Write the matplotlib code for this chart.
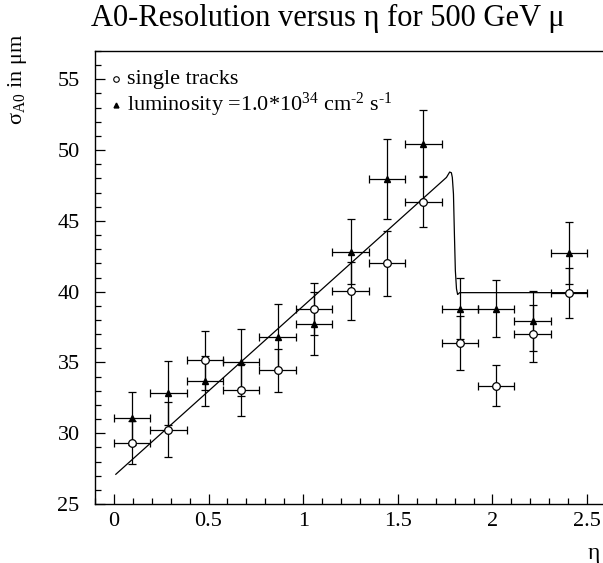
import matplotlib
matplotlib.use("Agg")
import matplotlib.pyplot as plt
from matplotlib.ticker import MultipleLocator

plt.rcParams['font.family'] = ['Liberation Serif', 'DejaVu Serif']
plt.rcParams['mathtext.fontset'] = 'custom'
plt.rcParams['mathtext.rm'] = 'Liberation Serif'
plt.rcParams['mathtext.it'] = 'Liberation Serif:italic'
plt.rcParams['mathtext.bf'] = 'Liberation Serif:bold'

# eta bin centres (13 bins over 0..2.5) and half widths
eta = [0.096, 0.288, 0.481, 0.673, 0.865, 1.058, 1.250, 1.442, 1.635, 1.827, 2.019, 2.212, 2.404]
eta_err = [0.096] * 13

# single tracks
single = [29.32, 30.26, 35.15, 33.03, 34.44, 38.79, 40.03, 42.00, 46.35, 36.37, 33.34, 37.03, 39.89]
single_err = [1.52, 1.94, 2.10, 1.83, 1.53, 1.85, 2.06, 2.30, 1.81, 1.88, 1.45, 2.00, 1.75]

# luminosity 1e34
lumi = [31.04, 32.84, 33.69, 35.01, 36.79, 37.73, 42.83, 47.95, 50.46, 38.79, 38.79, 37.92, 42.71]
lumi_err = [1.87, 2.26, 1.80, 2.37, 2.35, 2.23, 2.30, 2.85, 2.36, 2.16, 2.00, 2.10, 2.20]

# fit curve
fit_eta = [0.01, 1.757, 1.774, 1.783, 1.788, 1.794, 1.799, 1.804, 1.810, 1.816, 1.827, 2.50]
fit_sig = [27.10, 48.07, 48.45, 48.40, 48.07, 46.90, 44.08, 41.49, 40.20, 39.80, 39.93, 39.93]

fig = plt.figure(figsize=(6.03, 5.63), dpi=100)
ax = fig.add_axes([95/603, 59/563, 511/603, 453/563])

ax.plot(fit_eta, fit_sig, color='black', lw=0.9, zorder=2)

ax.errorbar(eta, lumi, xerr=eta_err, yerr=lumi_err, fmt='^', color='black',
            ms=4.5, elinewidth=0.9, capsize=3, capthick=0.9, zorder=3)
ax.errorbar(eta, single, xerr=eta_err, yerr=single_err, fmt='o', color='black',
            mfc='white', mec='black', mew=0.9, ms=5.5, elinewidth=0.9,
            capsize=3, capthick=0.9, zorder=4)

ax.set_xlim(-0.1, 2.6)
ax.set_ylim(25, 57)
ax.xaxis.set_major_locator(MultipleLocator(0.5))
ax.xaxis.set_minor_locator(MultipleLocator(0.1))
ax.yaxis.set_major_locator(MultipleLocator(5))
ax.yaxis.set_minor_locator(MultipleLocator(1))
ax.tick_params(which='both', direction='in', top=False, right=False, labelsize=16, width=0.9)
ax.tick_params(which='major', length=7)
ax.tick_params(which='minor', length=4)
ax.tick_params(axis='x', which='major', pad=6)
ax.tick_params(axis='y', which='major', pad=11)
ax.set_xticklabels(['', '0', '0.5', '1', '1.5', '2', '2.5'][:len(ax.get_xticks())])
for s in ax.spines.values():
    s.set_linewidth(1.0)

# legend drawn the ROOT way
ax.plot([0.01], [55], 'o', mfc='white', mec='black', ms=4, mew=0.8)
ax.text(0.07, 55, 'single tracks', fontsize=16, va='center')
ax.plot([0.01], [53.2], '^', color='black', ms=3.5)
ax.text(0.07, 53.2, 'luminosity =1.0*10$^{34}$ cm$^{‐2}$ s$^{‐1}$', fontsize=16, va='center')

fig.text(328/603, 1 - 18/563, 'A0-Resolution versus η for 500 GeV μ', fontsize=22,
         ha='center', va='center')
fig.text(18/603, 1 - 79/563, 'σ$_{\\mathrm{A0}}$ in μm', fontsize=16, rotation=90,
         ha='center', va='center')
fig.text(600/603, 1 - 553/563, 'η', fontsize=17, ha='right', va='center')

fig.savefig('out.png', dpi=100)
